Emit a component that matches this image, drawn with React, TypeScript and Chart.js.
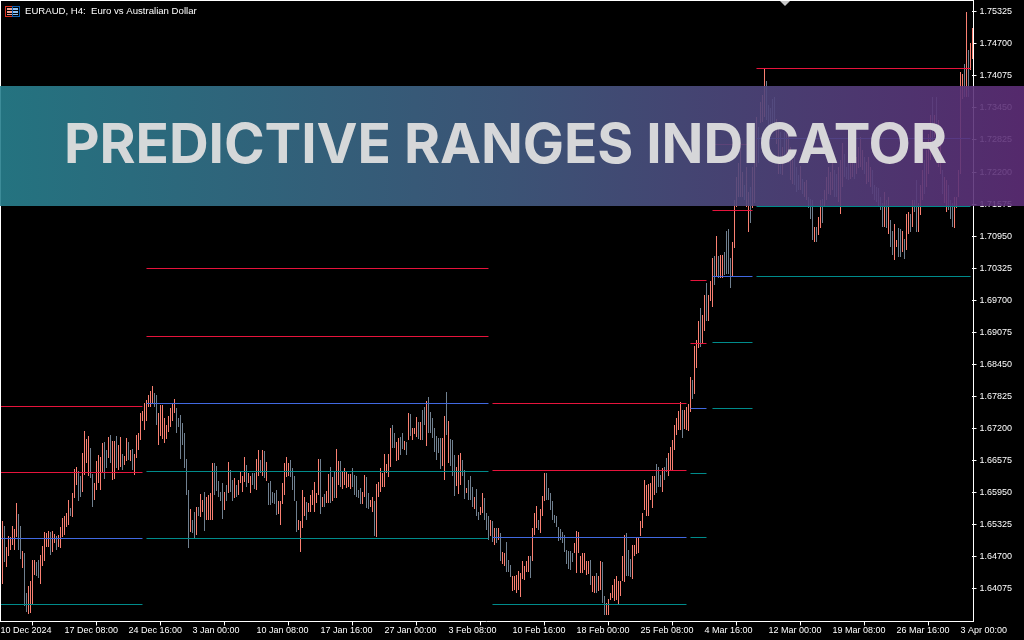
import React, { useEffect, useRef } from "react";
import { Chart, registerables } from "chart.js";

Chart.register(...registerables);

// Bar highs and lows in units of 0.0001 (1.6529 -> 16529)
const highPips: number[] = [
  16529,16540,16531,16490,16510,16508,16530,16524,16575,16553,
  16530,16482,16478,16399,16413,16423,16463,16463,16460,16464,
  16474,16491,16518,16516,16521,16519,16521,16514,16510,16513,
  16529,16545,16550,16555,16581,16565,16595,16641,16645,16638,
  16627,16672,16716,16699,16705,16682,16631,16614,16657,16669,
  16664,16692,16693,16679,16703,16708,16695,16696,16706,16688,
  16703,16671,16667,16701,16693,16679,16680,16671,16708,16712,
  16750,16755,16770,16776,16786,16794,16803,16790,16786,16750,
  16766,16766,16740,16727,16744,16760,16770,16778,16760,16740,
  16747,16731,16712,16660,16601,16563,16542,16558,16568,16568,
  16593,16581,16597,16587,16591,16594,16653,16653,16647,16617,
  16597,16613,16597,16610,16654,16639,16620,16623,16610,16620,
  16636,16627,16664,16649,16633,16628,16634,16633,16660,16679,
  16659,16679,16677,16654,16614,16617,16597,16594,16601,16578,
  16578,16614,16653,16664,16653,16659,16643,16627,16578,16542,
  16540,16601,16586,16576,16575,16591,16601,16615,16594,16660,
  16660,16587,16593,16599,16632,16646,16625,16638,16680,16657,
  16657,16636,16643,16638,16631,16632,16643,16630,16627,16601,
  16605,16597,16630,16625,16594,16581,16587,16578,16612,16615,
  16643,16633,16671,16651,16671,16721,16727,16711,16693,16701,
  16703,16712,16695,16693,16751,16749,16721,16721,16742,16732,
  16732,16757,16762,16774,16781,16753,16740,16722,16705,16701,
  16701,16701,16744,16791,16734,16699,16698,16669,16645,16669,
  16672,16658,16640,16605,16619,16627,16606,16586,16602,16557,
  16568,16595,16584,16555,16549,16542,16539,16526,16526,16526,
  16516,16480,16477,16498,16464,16454,16433,16433,16435,16443,
  16438,16461,16452,16461,16472,16472,16526,16555,16569,16542,
  16563,16589,16633,16633,16604,16594,16578,16552,16550,16529,
  16524,16519,16513,16484,16482,16482,16477,16497,16521,16519,
  16471,16477,16478,16461,16461,16464,16432,16432,16439,16432,
  16461,16459,16394,16380,16387,16399,16415,16426,16432,16422,
  16422,16471,16513,16517,16484,16465,16493,16493,16506,16506,
  16539,16555,16620,16610,16612,16613,16627,16627,16651,16645,
  16630,16643,16645,16662,16672,16685,16698,16727,16740,16755,
  16772,16757,16757,16763,16767,16821,16814,16880,16893,16930,
  16955,16941,16980,17003,16981,17007,17053,17056,17095,17056,
  17058,17058,17064,17106,17108,17053,17084,17165,17211,17237,
  17276,17220,17194,17230,17181,17191,17230,17263,17327,17308,
  17357,17370,17422,17397,17350,17344,17363,17367,17324,17315,
  17298,17269,17298,17308,17308,17269,17243,17250,17230,17214,
  17231,17207,17201,17204,17172,17168,17165,17113,17113,17132,
  17165,17168,17184,17211,17230,17220,17243,17224,17217,17230,
  17243,17276,17256,17230,17237,17237,17250,17237,17250,17269,
  17289,17263,17250,17240,17250,17230,17224,17194,17191,17188,
  17172,17159,17181,17165,17172,17126,17106,17118,17087,17110,
  17108,17106,17090,17139,17142,17139,17165,17165,17204,17159,
  17194,17224,17243,17263,17295,17331,17367,17331,17367,17321,
  17276,17224,17211,17204,17194,17165,17159,17172,17172,17224,
  17415,17412,17431,17531,17457,17472,17500,
];

const lowPips: number[] = [
  16451,16417,16459,16451,16471,16483,16493,16483,16508,16483,
  16465,16449,16374,16363,16359,16361,16378,16435,16432,16428,
  16417,16452,16461,16490,16490,16474,16480,16497,16483,16490,
  16487,16508,16513,16529,16532,16549,16547,16584,16610,16579,
  16586,16597,16630,16653,16627,16623,16567,16581,16601,16614,
  16601,16633,16622,16643,16662,16653,16619,16621,16643,16640,
  16646,16640,16649,16656,16659,16656,16640,16630,16662,16679,
  16698,16734,16718,16734,16763,16763,16768,16762,16727,16688,
  16705,16699,16692,16699,16714,16724,16734,16750,16711,16724,
  16660,16688,16643,16591,16488,16519,16516,16506,16513,16549,
  16547,16558,16521,16542,16542,16541,16542,16591,16599,16586,
  16578,16543,16561,16578,16594,16597,16578,16584,16587,16591,
  16614,16597,16615,16607,16614,16595,16610,16602,16601,16627,
  16633,16627,16623,16618,16571,16571,16575,16573,16552,16554,
  16532,16573,16591,16625,16627,16625,16601,16578,16519,16523,
  16480,16526,16549,16542,16558,16558,16571,16558,16575,16591,
  16553,16568,16567,16575,16575,16575,16578,16584,16584,16610,
  16607,16602,16610,16604,16607,16602,16607,16591,16586,16584,
  16573,16573,16586,16565,16563,16567,16558,16510,16508,16586,
  16597,16607,16607,16633,16625,16645,16682,16682,16656,16659,
  16669,16680,16679,16669,16698,16705,16698,16710,16703,16699,
  16698,16698,16727,16686,16711,16711,16701,16675,16659,16672,
  16641,16647,16619,16708,16653,16647,16627,16588,16608,16592,
  16610,16627,16582,16594,16581,16580,16568,16563,16549,16541,
  16552,16555,16541,16522,16503,16510,16498,16493,16497,16502,
  16461,16457,16452,16441,16441,16431,16404,16405,16399,16405,
  16392,16426,16425,16441,16441,16428,16461,16513,16526,16522,
  16516,16549,16578,16581,16581,16561,16542,16535,16529,16500,
  16503,16497,16480,16457,16446,16445,16459,16477,16439,16477,
  16439,16438,16445,16435,16437,16415,16402,16399,16399,16404,
  16405,16380,16357,16357,16357,16386,16389,16383,16386,16378,
  16393,16422,16420,16432,16432,16430,16427,16471,16476,16478,
  16510,16526,16561,16550,16550,16581,16565,16591,16594,16607,
  16607,16597,16620,16636,16627,16640,16640,16679,16708,16718,
  16718,16702,16720,16717,16715,16752,16777,16787,16838,16877,
  16879,16884,16910,16929,16929,16968,16957,17000,17017,17014,
  17014,17013,17019,17022,17022,16993,17015,17072,17152,17172,
  17172,17172,17165,17152,17103,17120,17149,17159,17230,17237,
  17315,17318,17327,17321,17305,17295,17298,17308,17275,17217,
  17217,17214,17243,17250,17237,17204,17197,17194,17181,17184,
  17184,17178,17172,17165,17149,17129,17087,17084,17084,17097,
  17110,17120,17152,17165,17178,17175,17184,17172,17172,17162,
  17139,17191,17211,17207,17204,17207,17211,17207,17217,17227,
  17230,17224,17217,17197,17201,17191,17178,17165,17162,17152,
  17146,17113,17113,17110,17100,17074,17058,17048,17074,17055,
  17055,17064,17051,17069,17100,17103,17113,17142,17103,17103,
  17136,17165,17178,17191,17217,17243,17269,17289,17308,17230,
  17217,17178,17159,17142,17146,17129,17113,17110,17149,17172,
  17217,17363,17367,17367,17367,17419,17441,
];

// s = salmon bar, g = grey bar
const barShades: string =
  "gsgssssssg" + "gsggssssgg" + "sssssgssgs" + "sssssgsssg" + "gssssggsss" +
  "ssggsgssgs" + "sgssgsgsss" + "sssssssggs" + "ssssssssgg" + "gggggsggsg" +
  "ssgssssggg" + "ggsgsggsgs" + "sssgssggss" + "gsgsgggggs" + "sssssggggs" +
  "sssgssssss" + "gsgssgsgss" + "gsssssgggg" + "gssggssgss" + "ssssssggss" +
  "ggsgsgsssg" + "sggsgggggg" + "gssgsgggss" + "sggsgggsgg" + "ssgggsgsgs" +
  "gssgggssss" + "sssssgsssg" + "sssggggggg" + "gggggggsss" + "sssssgssgs" +
  "sggsssssss" + "sssgggssss" + "ssssssssgg" + "gsggssssss" + "sgssssgsss" +
  "gssgsssgsg" + "ssggggssss" + "ssgssgsssg" + "sssgggggss" + "gsgssssggg" +
  "sgssgggsgs" + "sgsssssggs" + "ssgggssgss" + "ssgsssgggg" + "ggsgsggssg" +
  "gsgssgsggs" + "ssgsssgsgs" + "sgssgggsss" + "ssgsgss";

const dateTicks: string[] = [
  "10 Dec 2024", "17 Dec 08:00", "24 Dec 16:00", "3 Jan 00:00", "10 Jan 08:00", "17 Jan 16:00",
  "27 Jan 00:00", "3 Feb 08:00", "10 Feb 16:00", "18 Feb 00:00", "25 Feb 08:00", "4 Mar 16:00",
  "12 Mar 00:00", "19 Mar 08:00", "26 Mar 16:00", "3 Apr 00:00",
];
const barsPerDateTick = 32;

const priceTicks: number[] = [
  1.64075, 1.647, 1.65325, 1.6595, 1.66575, 1.672, 1.67825, 1.6845, 1.69075, 1.697,
  1.70325, 1.7095, 1.71575, 1.722, 1.72825, 1.7345, 1.74075, 1.747, 1.75325,
];

// Predictive range levels: first bar, last bar, price, kind
const levelStart: number[] = [0,0,0,0, 73,73,73,73,73, 246,246,246,246, 345,345,345,345,345, 356,356,356,356,356, 378,378,378,378];
const levelEnd: number[] = [71,71,71,71, 244,244,244,244,244, 343,343,343,343, 353,353,353,353,353, 376,376,376,376,376, 485,485,485,485];
const levelPrice: number[] = [
  1.67634,1.66348,1.65058,1.63771,
  1.70325,1.68995,1.67687,1.66367,1.65058,
  1.67690,1.66383,1.65077,1.63775,
  1.70090,1.68849,1.67595,1.66323,1.65077,
  1.72740,1.71455,1.70168,1.68882,1.67595,
  1.74220,1.72858,1.71525,1.70168,
];
const levelKind: string[] = [
  "r","r","b","t",
  "r","r","b","t","t",
  "r","r","b","t",
  "r","r","b","t","t",
  "r","r","b","t","t",
  "r","b","t","t",
];

const COLORS: Record<string, string> = { r: "#e6143c", b: "#4169e1", t: "#008b8b", s: "#fa8072", g: "#708090" };

const chromePlugin = {
  id: "chrome",
  beforeDraw(chart: any) {
    const { ctx, width, height } = chart;
    ctx.save();
    ctx.fillStyle = "#000";
    ctx.fillRect(0, 0, width, height);
    ctx.restore();
  },
  beforeDatasetsDraw(chart: any) {
    chart.data.datasets.forEach((ds: any, i: number) => {
      const meta = chart.getDatasetMeta(i);
      meta.data.forEach((el: any) => {
        if (ds.type === "line") {
          el.y = Math.floor(el.y) + 0.5;
        } else {
          el.x = Math.floor(el.x) + 0.5;
          el.y = Math.round(el.y);
          el.base = Math.round(el.base);
        }
      });
    });
  },
  afterDraw(chart: any) {
    const { ctx, chartArea } = chart;
    const right = Math.ceil(chartArea.right);
    const bottom = Math.floor(chartArea.bottom);
    ctx.save();
    ctx.fillStyle = "#fff";
    ctx.fillRect(right, 0, 1, bottom + 1);
    ctx.fillRect(0, 0, right, 1);
    ctx.fillRect(0, 0, 1, bottom + 1);
    // period-separator caret
    ctx.fillStyle = "#c8c8c8";
    ctx.beginPath();
    ctx.moveTo(780, 1);
    ctx.lineTo(790, 1);
    ctx.lineTo(785, 6);
    ctx.closePath();
    ctx.fill();
    // symbol icon
    ctx.fillStyle = "#e03020";
    ctx.fillRect(5, 6, 8, 11);
    ctx.fillStyle = "#1060b0";
    ctx.fillRect(12, 6, 8, 11);
    ctx.fillStyle = "#000";
    ctx.fillRect(6, 7, 6, 9);
    ctx.fillRect(13, 7, 6, 9);
    ctx.fillStyle = "#f0a090";
    ctx.fillRect(7, 8, 5, 2);
    ctx.fillRect(7, 11, 5, 2);
    ctx.fillRect(7, 14, 5, 1);
    ctx.fillStyle = "#90c0f0";
    ctx.fillRect(13, 8, 5, 2);
    ctx.fillRect(13, 11, 5, 2);
    ctx.fillRect(13, 14, 5, 1);
    ctx.fillStyle = "#fff";
    ctx.font = "9.6px 'Liberation Sans'";
    ctx.textBaseline = "middle";
    ctx.fillText("EURAUD, H4:  Euro vs Australian Dollar", 25, 11.5);
    ctx.restore();
  },
};

const noOverflow = (s: any) => {
  s.paddingTop = 0;
  s.paddingBottom = 0;
  s.paddingLeft = 0;
  s.paddingRight = 0;
};

export default function App() {
  const canvasRef = useRef<HTMLCanvasElement | null>(null);

  useEffect(() => {
    const canvas = canvasRef.current;
    if (!canvas) return;
    const labels = highPips.map((_, i) => (i % barsPerDateTick === 0 ? dateTicks[i / barsPerDateTick] ?? "" : ""));
    const barDataset: any = {
      type: "bar",
      data: highPips.map((h, i) => [lowPips[i] / 10000, h / 10000]),
      backgroundColor: highPips.map((_, i) => COLORS[barShades[i] === "g" ? "g" : "s"]),
      barThickness: 1,
      borderWidth: 0,
      inflateAmount: 0,
      order: 2,
      clip: false,
    };
    const lineDatasets: any[] = levelPrice.map((price, k) => ({
      type: "line",
      data: highPips.map((_, i) => (i === levelStart[k] || i === levelEnd[k] ? price : null)),
      borderColor: COLORS[levelKind[k]],
      borderWidth: 1,
      pointRadius: 0,
      spanGaps: true,
      order: 1,
      clip: false,
    }));
    const chart = new Chart(canvas, {
      type: "bar",
      data: { labels, datasets: [barDataset, ...lineDatasets] },
      plugins: [chromePlugin],
      options: {
        animation: false,
        responsive: false,
        devicePixelRatio: 1,
        layout: { padding: { left: 0.49, top: 0.5, right: 0, bottom: 0 } },
        plugins: { legend: { display: false }, tooltip: { enabled: false }, title: { display: false } },
        scales: {
          x: {
            type: "category",
            offset: false,
            afterFit: (s: any) => { s.height = 18.51; noOverflow(s); },
            afterBuildTicks: (s: any) => { s.ticks = s.ticks.filter((t: any) => t.value % barsPerDateTick === 0); },
            grid: { drawOnChartArea: false, drawTicks: true, tickLength: 4, tickColor: "#fff", color: "#fff" },
            border: { display: true, color: "#fff", width: 1 },
            ticks: {
              autoSkip: false, maxRotation: 0, minRotation: 0, align: "start", padding: 0,
              color: "#fff", font: { family: "'Liberation Sans'", size: 9 },
            },
          },
          y: {
            type: "linear",
            position: "right",
            min: 1.6344,
            max: 1.75543,
            afterFit: (s: any) => { s.width = 51.51; noOverflow(s); },
            afterBuildTicks: (s: any) => { s.ticks = priceTicks.map((value) => ({ value })); },
            grid: { drawOnChartArea: false, drawTicks: true, tickLength: 4, tickColor: "#fff", color: "#fff" },
            border: { display: false },
            ticks: {
              autoSkip: false, padding: 3, color: "#fff", font: { family: "'Liberation Sans'", size: 9 },
              callback: (v: any) => Number(v).toFixed(5),
            },
          },
        },
      } as any,
    } as any);
    return () => chart.destroy();
  }, []);

  return (
    <div style={{ position: "fixed", left: 0, top: 0, width: 1024, height: 640, background: "#000", overflow: "hidden" }}>
      <canvas ref={canvasRef} width={1024} height={640} style={{ display: "block" }} />
      <div
        style={{
          position: "absolute", left: 0, top: 86, width: 1024, height: 120, opacity: 0.9,
          background: "linear-gradient(90deg, rgb(40,128,142) 0%, rgb(66,92,130) 50%, rgb(94,46,120) 100%)",
        }}
      />
      <div
        style={{
          position: "absolute", left: 64, top: 86, height: 120, lineHeight: "115px", whiteSpace: "nowrap",
          fontFamily: "Inter", fontWeight: 700, fontSize: 55, letterSpacing: -0.07, color: "rgba(222,222,222,0.95)",
        }}
      >
        PREDICTIVE RANGES INDICATOR
      </div>
    </div>
  );
}
